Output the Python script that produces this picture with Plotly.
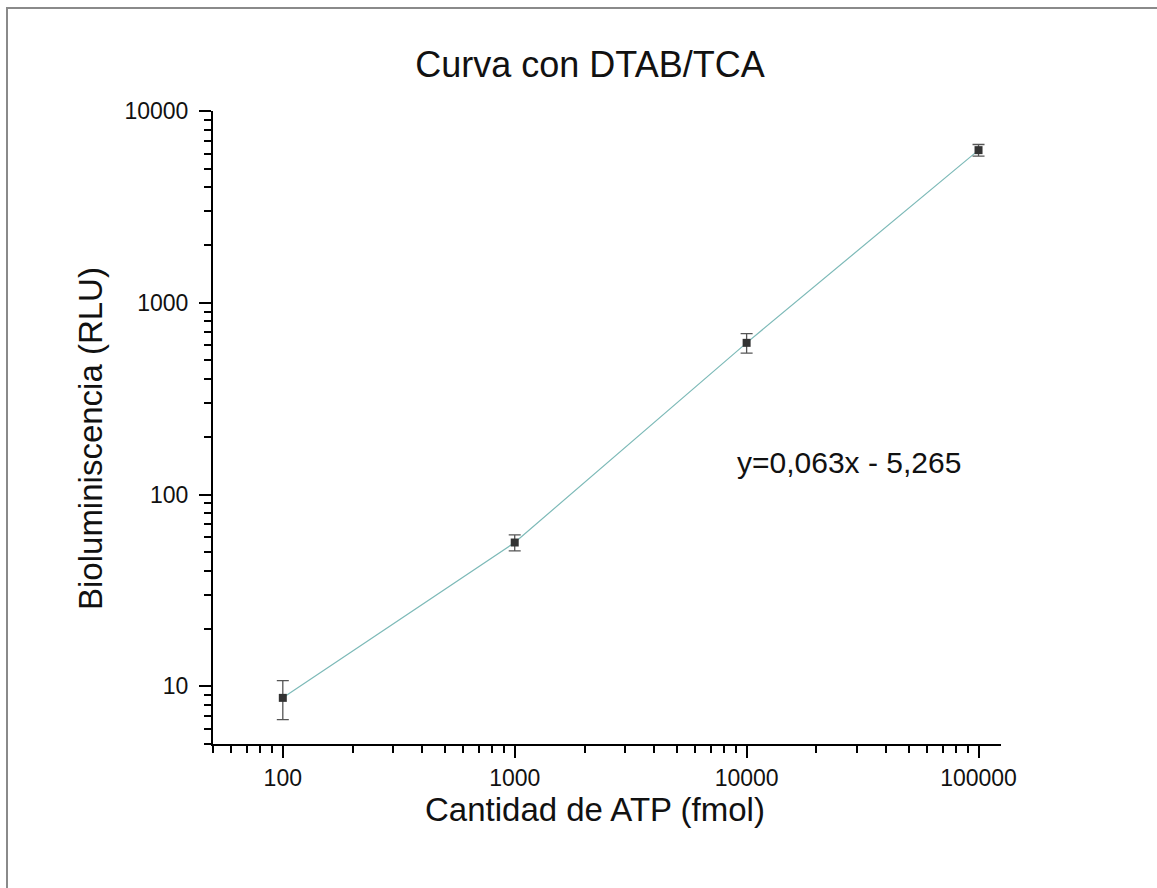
import plotly.graph_objects as go
import numpy as np

atp_fmol = [100, 1000, 10000, 100000]
rlu_mean = [8.7, 56.2, 618, 6250]
rlu_err = [2.0, 5.4, 72, 440]

x_tick_vals = [100, 1000, 10000, 100000]
x_tick_text = ["100", "1000", "10000", "100000"]
y_tick_vals = [10, 100, 1000, 10000]
y_tick_text = ["10", "100", "1000", "10000"]

title_text = "Curva con DTAB/TCA"
x_title = "Cantidad de ATP (fmol)"
y_title = "Bioluminiscencia (RLU)"
equation = "y=0,063x - 5,265"

x_minor = [m * 10 ** e for e in range(1, 6) for m in range(2, 10)]
x_minor = [v for v in x_minor if 50 <= v <= 125000]
y_minor = [m * 10 ** e for e in range(0, 4) for m in range(2, 10)]
y_minor = [v for v in y_minor if 5 <= v <= 10000]

FONT = "Arial, Liberation Sans, sans-serif"
W, H = 1157, 888
L, R, T, B = 213, 156, 111, 144
PW, PH = W - L - R, H - T - B

fig = go.Figure()
fig.add_trace(go.Scatter(
    x=atp_fmol, y=rlu_mean, mode="lines",
    line=dict(color="#7dbab8", width=1.2),
    showlegend=False, hoverinfo="skip",
))
fig.add_trace(go.Scatter(
    x=atp_fmol, y=rlu_mean, mode="markers",
    marker=dict(symbol="square", size=8, color="#333333"),
    error_y=dict(type="data", array=rlu_err, color="#555555", thickness=1.3, width=6),
    showlegend=False,
))

axis_common = dict(
    type="log", showgrid=False, zeroline=False,
    showline=True, linecolor="black", linewidth=2,
    ticks="outside", ticklen=12, tickwidth=2, tickcolor="black",
    tickfont=dict(family=FONT, size=23, color="#111111"),
)

fig.update_xaxes(
    **axis_common,
    range=[np.log10(50), np.log10(125000)],
    tickmode="array", tickvals=x_tick_vals, ticktext=x_tick_text,
    minor=dict(tickmode="array", tickvals=x_minor, ticks="outside", ticklen=7,
               tickwidth=2, tickcolor="black", showgrid=False),
)
fig.update_yaxes(
    **axis_common,
    range=[np.log10(5), 4],
    tickmode="array", tickvals=y_tick_vals, ticktext=y_tick_text,
    ticklabelstandoff=6,
    minor=dict(tickmode="array", tickvals=y_minor, ticks="outside", ticklen=7,
               tickwidth=2, tickcolor="black", showgrid=False),
)

# axis titles
fig.add_annotation(
    x=(595 - L) / PW, y=-(809 - (T + PH)) / PH, xref="paper", yref="paper",
    text=x_title, showarrow=False, xanchor="center", yanchor="middle",
    font=dict(family=FONT, size=33, color="#111111"),
)
fig.add_annotation(
    x=(91 - L) / PW, y=((T + PH) - 439) / PH, xref="paper", yref="paper",
    text=y_title, showarrow=False, textangle=-90, xanchor="center", yanchor="middle",
    font=dict(family=FONT, size=33, color="#111111"),
)

fig.add_annotation(
    x=np.log10(27500), y=np.log10(147), xref="x", yref="y",
    text=equation, showarrow=False,
    font=dict(family=FONT, size=30, color="#111111"),
)

fig.add_shape(type="rect", xref="paper", yref="paper",
              x0=(7 - L) / PW, x1=1.3, y0=-0.3, y1=1 + (T - 8) / PH,
              line=dict(color="#8a8a8a", width=2), fillcolor="rgba(0,0,0,0)", layer="below")

fig.update_layout(
    width=W, height=H,
    margin=dict(l=L, r=R, t=T, b=B),
    paper_bgcolor="white", plot_bgcolor="white",
    title=dict(text=title_text, x=590 / W, xanchor="center", y=0.927, yanchor="middle",
               xref="container",
               font=dict(family=FONT, size=36, color="#111111")),
)

fig.write_html("out.html")
